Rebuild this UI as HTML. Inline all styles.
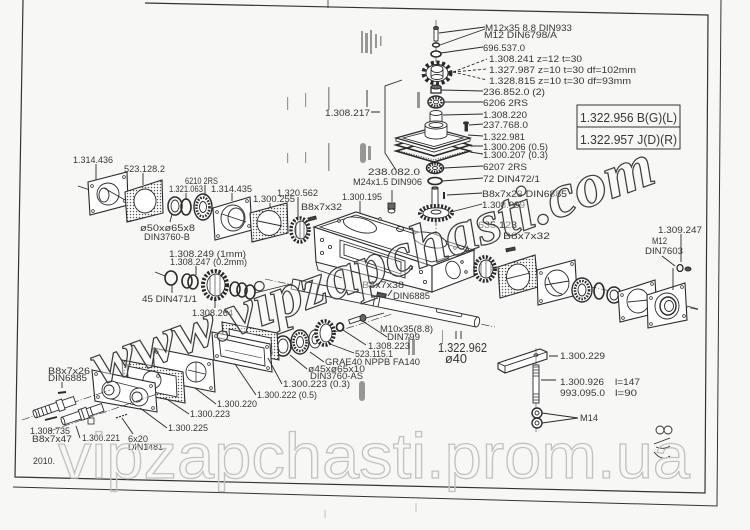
<!DOCTYPE html>
<html><head><meta charset="utf-8">
<style>
html,body{margin:0;padding:0;background:#f7f7f6;}
svg{display:block;}
text{font-family:"Liberation Sans",sans-serif;fill:#363636;font-size:9.5px;}
</style></head><body>
<svg width="750" height="530" viewBox="0 0 750 530" xmlns="http://www.w3.org/2000/svg">
<defs>
<pattern id="dots" width="3" height="3" patternUnits="userSpaceOnUse"><rect width="3" height="3" fill="#fff"/><circle cx="1.5" cy="1.5" r="0.75" fill="#555"/></pattern>
</defs>
<rect width="750" height="530" fill="#f7f7f6"/>

<!-- scan smudges -->
<g fill="#777" opacity="0.75">
<rect x="361" y="31" width="2" height="22"/><rect x="365" y="33" width="3" height="20"/><rect x="370" y="30" width="2" height="24"/><rect x="375" y="34" width="2" height="14"/><rect x="380" y="36" width="1.5" height="10"/>
<rect x="287" y="97" width="1.2" height="13"/><rect x="305" y="93" width="1.2" height="14"/><rect x="328" y="87" width="1.5" height="23"/><rect x="366" y="90" width="2" height="17"/><rect x="417" y="92" width="3" height="16"/>
<rect x="287" y="153" width="1.2" height="10"/><rect x="305" y="152" width="1.2" height="11"/><rect x="328" y="143" width="1.5" height="28"/><rect x="360" y="143" width="6" height="20" rx="3"/><rect x="368" y="146" width="3" height="14"/>
<rect x="359" y="381" width="6" height="20" rx="3"/><rect x="408" y="337" width="2" height="18"/><rect x="412" y="339" width="3" height="16"/><rect x="455" y="331" width="2" height="8"/><rect x="460" y="331" width="2" height="8"/><rect x="442" y="330" width="1" height="14"/>
</g>

<!-- frames -->
<g fill="none" stroke="#333" stroke-width="1.2">
<polyline points="145,3 708,15 705,493 15,477 23,0"/>
<polyline points="13,487 717,506 721,0" stroke-width="1"/>
<line x1="328" y1="0" x2="328" y2="8" stroke-width="0.8"/>
<line x1="325" y1="510" x2="325" y2="518" stroke-width="0.6" stroke="#999"/>
<line x1="416" y1="503" x2="416" y2="512" stroke-width="0.6" stroke="#999"/>
</g>

<g fill="none" stroke="#2a2a2a" stroke-width="0.9">

<!-- ===== TOP VERTICAL STACK ===== -->
<line x1="436" y1="20" x2="436" y2="62" stroke-width="0.6"/>
<rect x="434" y="28" width="4" height="13" fill="#fff"/>
<ellipse cx="436" cy="28" rx="2.5" ry="1.5" fill="#555"/>
<ellipse cx="436" cy="45" rx="3.5" ry="2" fill="#fff" stroke-width="1.4"/>
<ellipse cx="436" cy="54" rx="5" ry="3" fill="#fff" stroke-width="1.6"/>
<ellipse cx="437" cy="73" rx="13.5" ry="10.5" fill="#fff" stroke-width="4" stroke-dasharray="3 2.6"/>
<ellipse cx="437" cy="73" rx="11" ry="8.5" fill="#fff"/>
<ellipse cx="437" cy="69" rx="6" ry="3.5"/>
<path d="M431 69 v8 M443 69 v8"/>
<ellipse cx="437" cy="77" rx="6" ry="2.5"/>
<rect x="431" y="87" width="10" height="6" fill="#fff" stroke-width="1.3"/>
<ellipse cx="436" cy="87" rx="5" ry="2" fill="#666"/>
<ellipse cx="436" cy="102" rx="8" ry="6" fill="#fff" stroke-width="1.5"/>
<ellipse cx="436" cy="102" rx="5.5" ry="4" stroke-width="2.5" stroke-dasharray="1.5 1.2"/>
<ellipse cx="436" cy="102" rx="2.5" ry="1.8" fill="#fff"/>
<path d="M430 113 v8 a6 2.5 0 0 0 12 0 v-8" fill="#fff"/>
<ellipse cx="436" cy="113" rx="6" ry="2.5" fill="#fff"/>
<polygon points="396,145 432,135 470,145 434,156" stroke-width="1.6"/>
<polygon points="396,151 432,141 470,151 434,162" stroke-width="1.6"/>
<polyline points="399,151 434,160 467,151" stroke-dasharray="1 1.5"/>
<polygon points="396,138 396,141 434,152 470,141 470,138 434,149" fill="#fff"/>
<polygon points="396,138 432,128 470,138 434,149" fill="#fff" stroke-width="1.2"/>
<polygon points="403,138 432,130.5 463,138 434,146.5"/>
<path d="M425 125 v10 a11 4 0 0 0 22 0 v-10" fill="#fff"/>
<ellipse cx="436" cy="125" rx="11" ry="4" fill="#fff"/>
<ellipse cx="436" cy="125" rx="7" ry="2.5"/>
<rect x="465" y="123" width="2.5" height="8" fill="#333"/>
<ellipse cx="466" cy="123" rx="2.5" ry="1.2" fill="#333"/>
<ellipse cx="435" cy="168" rx="8.5" ry="5.5" fill="#fff" stroke-width="1.5"/>
<ellipse cx="435" cy="168" rx="6" ry="3.8" stroke-width="2.6" stroke-dasharray="1.4 1.1"/>
<ellipse cx="435" cy="168" rx="2.5" ry="1.5" fill="#fff"/>
<ellipse cx="435" cy="181" rx="7" ry="3.5" stroke-width="1.6"/>
<rect x="432" y="188" width="6" height="19" fill="#fff"/>
<ellipse cx="435" cy="188" rx="3" ry="1.2"/>
<line x1="444" y1="192" x2="444" y2="199" stroke-width="2"/>
<ellipse cx="436" cy="213" rx="16" ry="7" fill="#fff" stroke-width="4" stroke-dasharray="2 1.6"/>
<ellipse cx="436" cy="213" rx="13" ry="5.2" fill="#fff"/>
<ellipse cx="436" cy="212" rx="5" ry="2"/>
<line x1="436" y1="221" x2="436" y2="236" stroke-dasharray="5 2 1 2" stroke-width="0.7"/>

<path d="M439 33 L485 27 M440 45 L485 29 M441 53 L483 47"/>
<path d="M453 72 L487 59 M453 72 L487 69 M453 72 L487 80" stroke-dasharray="3 2"/>
<path d="M441 90 L483 91 M444 102 L483 102 M443 115 L483 114 M469 125 L483 124 M468 135 L483 136 M470 146 L483 146 M470 152 L483 154 M444 168 L483 166 M442 181 L483 178 M447 195 L482 193 M451 212 L482 204"/>

<path d="M371 112 L380 112 M402 80 L385 86 L385 153 L396 170"/>

<!-- ===== HOUSING ===== -->
<polygon points="314,227 432,266 432,292 316,262" fill="#fff" stroke-width="1.1"/>
<polygon points="432,266 474,250 474,276 432,292" fill="#fff" stroke-width="1.1"/>
<polygon points="314,227 356,212 474,250 432,266" fill="#fff" stroke-width="1.1"/>
<polygon points="320,227 356,215 468,251 432,262"/>
<ellipse cx="360" cy="225" rx="17" ry="7" transform="rotate(15 360 225)" fill="#fff"/>
<ellipse cx="430" cy="240" rx="17" ry="7" transform="rotate(15 430 240)" fill="#fff"/>
<ellipse cx="400" cy="229" rx="3.5" ry="2.5"/>
<polygon points="340,240 405,261 405,278 340,257" fill="#fff"/>
<polygon points="344,244 401,262 401,274 344,255"/>
<path d="M316 262 L318 270 L342 278 M420 289 L432 292"/>
<ellipse cx="453" cy="270" rx="7" ry="9" transform="rotate(-20 453 270)"/>
<g fill="#fff" stroke-width="0.8">
<circle cx="322" cy="240" r="1.6"/><circle cx="330" cy="247" r="1.6"/><circle cx="322" cy="253" r="1.6"/><circle cx="411" cy="268" r="1.6"/><circle cx="421" cy="272" r="1.6"/><circle cx="425" cy="282" r="1.6"/><circle cx="339" cy="221" r="1.3"/><circle cx="380" cy="219" r="1.3"/><circle cx="414" cy="233" r="1.3"/><circle cx="455" cy="248" r="1.3"/><circle cx="462" cy="262" r="1.3"/><circle cx="466" cy="272" r="1.3"/>
</g>
<rect x="388" y="203" width="7" height="6" fill="#666"/>
<ellipse cx="391.5" cy="211" rx="3.5" ry="2" fill="#fff"/>
<path d="M392 190 v12 M360 201 v12"/>

<line x1="265" y1="279" x2="495" y2="327" stroke-dasharray="8 2 1 2" stroke-width="0.6"/>
<path d="M293 279 L478 317 L476 327 L291 289 Z" fill="#fff"/>
<ellipse cx="477" cy="322" rx="2.5" ry="5" transform="rotate(12 477 322)" fill="#fff"/>
<path d="M300 281 l-2 10 M306 282 l-2 10 M312 283 l-2 10 M318 285 l-2 10 M375 296 l-2 10 M380 297 l-2 10"/>
<rect x="436" y="311" width="26" height="3.5" rx="1.7" transform="rotate(11.6 449 313)" fill="#fff"/>
<rect x="377" y="293" width="9" height="4" transform="rotate(12 381 295)" fill="#555"/>
<path d="M392 290 L388 296"/>

<!-- ===== TOP LEFT CHAIN ===== -->
<line x1="78" y1="186" x2="90" y2="190"/>
<polygon points="88,182 127,172 128,205 90,215" fill="#fff" stroke-width="1.1"/>
<circle cx="108" cy="194" r="11"/>
<ellipse cx="104" cy="195" rx="5" ry="7"/>
<path d="M104 188 L125 200"/>
<g fill="#fff" stroke-width="0.7"><circle cx="92" cy="186" r="1.4"/><circle cx="124" cy="177" r="1.4"/><circle cx="125" cy="201" r="1.4"/><circle cx="93" cy="211" r="1.4"/></g>
<polygon points="125,192 162,180 163,213 127,222" fill="url(#dots)" stroke-width="1.1"/>
<ellipse cx="145" cy="201" rx="11" ry="12" fill="#fff"/>
<ellipse cx="175" cy="206" rx="7" ry="9" fill="#fff" stroke-width="1.5"/>
<ellipse cx="175" cy="206" rx="4" ry="6"/>
<ellipse cx="186" cy="207" rx="5" ry="8" stroke-width="1.6"/>
<ellipse cx="203" cy="207" rx="9" ry="13" fill="#fff" stroke-width="1.4"/>
<ellipse cx="203" cy="207" rx="6.5" ry="9.5" stroke-width="2.6" stroke-dasharray="1.6 1.3"/>
<ellipse cx="203" cy="207" rx="3.5" ry="5.5" fill="#fff"/>
<polygon points="213,208 250,197 252,230 215,240" fill="#fff" stroke-width="1.1"/>
<ellipse cx="233" cy="218" rx="12" ry="13" fill="#fff"/>
<ellipse cx="236" cy="218" rx="8" ry="10"/>
<path d="M222 214 L246 222"/>
<g fill="#fff" stroke-width="0.7"><circle cx="217" cy="212" r="1.4"/><circle cx="247" cy="201" r="1.4"/><circle cx="249" cy="226" r="1.4"/><circle cx="218" cy="236" r="1.4"/></g>
<polygon points="250,213 287,203 288,233 252,242" fill="url(#dots)" stroke-width="1.1"/>
<ellipse cx="269" cy="223" rx="12" ry="12.5" fill="#fff"/>
<path d="M258 221 L282 226"/>
<ellipse cx="300" cy="230" rx="9" ry="12" fill="#fff" stroke-width="3.5" stroke-dasharray="2 1.5"/>
<ellipse cx="301" cy="230" rx="6" ry="9" fill="#fff"/>
<path d="M296 222 v16 M300 221 v18 M304 222 v16" stroke-width="0.6"/>
<rect x="308" y="217" width="8" height="3" transform="rotate(-15 312 218)" fill="#444"/>
<path d="M96 164 v16 M143 173 v12 M205 185 v11 M186 193 v7 M232 193 v8 M270 203 v5 M298 197 v22 M170 222 l2 -8"/>

<!-- ===== 2nd LEFT CHAIN ===== -->
<line x1="155" y1="272" x2="165" y2="276"/>
<ellipse cx="171" cy="278" rx="6" ry="7" stroke-width="1.6"/>
<ellipse cx="187" cy="281" rx="5" ry="7" stroke-width="1.6"/>
<ellipse cx="193" cy="282" rx="5" ry="7" stroke-width="1.6"/>
<ellipse cx="215" cy="285" rx="12" ry="14" fill="#fff" stroke-width="4" stroke-dasharray="2.2 1.6"/>
<ellipse cx="216" cy="285" rx="9" ry="11" fill="#fff"/>
<path d="M210 276 v18 M215 275 v20 M220 276 v18" stroke-width="0.6"/>
<ellipse cx="235" cy="289" rx="5" ry="7" stroke-width="1.6"/>
<ellipse cx="242" cy="290" rx="5" ry="7" stroke-width="1.6"/>
<ellipse cx="250" cy="292" rx="5" ry="7" stroke-width="1.6"/>
<line x1="255" y1="293" x2="291" y2="284"/>
<path d="M172 293 v-8 M196 266 v9 M215 299 v9"/>

<!-- ===== BOTTOM MID BEARINGS ===== -->
<line x1="272" y1="352" x2="392" y2="314" stroke-dasharray="8 2 1 2" stroke-width="0.6"/>
<ellipse cx="283" cy="346" rx="8" ry="10" fill="#fff" stroke-width="1.6"/>
<ellipse cx="283" cy="346" rx="5" ry="7"/>
<ellipse cx="300" cy="342" rx="9" ry="12" fill="#fff" stroke-width="1.4"/>
<ellipse cx="300" cy="342" rx="6.5" ry="9" stroke-width="2.6" stroke-dasharray="1.6 1.3"/>
<ellipse cx="300" cy="342" rx="3.5" ry="5.5" fill="#fff"/>
<ellipse cx="315" cy="339" rx="6" ry="9" fill="#fff"/>
<ellipse cx="315" cy="339" rx="3" ry="5"/>
<ellipse cx="325" cy="333" rx="9" ry="12" fill="#fff" stroke-width="3.8" stroke-dasharray="2 1.5"/>
<ellipse cx="326" cy="333" rx="6" ry="9" fill="#fff"/>
<ellipse cx="340" cy="327" rx="3.5" ry="4" fill="#fff" stroke-width="1.8"/>
<rect x="349" y="318" width="12" height="4" transform="rotate(-18 355 320)" fill="#fff"/>
<ellipse cx="363" cy="318" rx="3" ry="3.5" fill="#666"/>
<path d="M366 318 L384 313 M364 322 L387 337 M343 330 L366 345 M330 344 L354 353 M310 352 L324 362 M290 355 L307 369"/>

<!-- ===== BOTTOM LEFT PLATES ===== -->
<polygon points="222,322 277,333 279,360 224,349" fill="url(#dots)" stroke-width="1.1"/>
<polygon points="229,329 271,338 272,354 230,344" fill="#fff"/>
<polygon points="212,332 270,344 272,372 214,360" fill="#fff" stroke-width="1.1"/>
<polygon points="219,338 264,348 265,366 221,356"/>
<path d="M225 350 L262 358" stroke-width="0.6"/>
<polygon points="153,348 213,360 215,392 155,380" fill="#fff" stroke-width="1.1"/>
<circle cx="196" cy="372" r="10"/>
<path d="M188 370 L205 374 M196 362 v20" stroke-width="0.7"/>
<polygon points="122,360 183,372 185,403 124,391" fill="url(#dots)" stroke-width="1.1"/>
<polygon points="127,366 176,376 177,397 129,387" fill="#fff"/>
<circle cx="152" cy="380" r="9"/>
<polygon points="92,370 155,383 157,412 95,401" fill="#fff" stroke-width="1.1"/>
<path d="M111 381 L139 388 M111 399 L139 406" stroke-width="0.8"/>
<circle cx="111" cy="390" r="9" fill="#fff"/>
<circle cx="139" cy="397" r="9" fill="#fff"/>
<circle cx="109" cy="390" r="5"/>
<circle cx="137" cy="397" r="5"/>
<g fill="#fff" stroke-width="0.7">
<circle cx="96" cy="374" r="1.4"/><circle cx="151" cy="386" r="1.4"/><circle cx="153" cy="408" r="1.4"/><circle cx="98" cy="397" r="1.4"/>
<circle cx="157" cy="352" r="1.4"/><circle cx="209" cy="364" r="1.4"/><circle cx="211" cy="388" r="1.4"/><circle cx="158" cy="376" r="1.4"/>
<circle cx="216" cy="336" r="1.4"/><circle cx="267" cy="347" r="1.4"/><circle cx="268" cy="368" r="1.4"/><circle cx="217" cy="356" r="1.4"/>
</g>
<path d="M268 358 L282 384 M235 364 L256 395 M195 388 L216 404 M165 398 L189 414 M140 408 L167 428"/>

<line x1="22" y1="420" x2="110" y2="390" stroke-dasharray="8 2 1 2" stroke-width="0.6"/>
<line x1="50" y1="431" x2="160" y2="393" stroke-dasharray="8 2 1 2" stroke-width="0.6"/>
<g transform="translate(35,414) rotate(-19)">
<rect x="0" y="-4" width="42" height="8" fill="#fff"/>
<path d="M4 -4 v8 M8 -4 v8 M12 -4 v8 M16 -4 v8"/>
<rect x="24" y="-5.5" width="6" height="11" fill="#fff"/>
<ellipse cx="0" cy="0" rx="1.5" ry="4" fill="#fff"/>
</g>
<g transform="translate(63,421) rotate(-19)">
<rect x="0" y="-4" width="42" height="8" fill="#fff"/>
<rect x="18" y="-5.5" width="8" height="11" fill="#fff"/>
<path d="M21 -5.5 v11 M30 -4 v8"/>
<ellipse cx="0" cy="0" rx="1.5" ry="4" fill="#fff"/>
</g>
<line x1="58" y1="393" x2="66" y2="392" stroke-width="2"/>
<line x1="45" y1="420" x2="57" y2="417" stroke-width="1.8"/>
<rect x="88" y="418" width="6" height="6" stroke-width="0.8"/>
<line x1="116" y1="418" x2="128" y2="414" stroke-dasharray="2 1.2" stroke-width="1.2"/>
<path d="M62 388 v-6 M133 434 L122 418 M80 438 L76 426"/>

<!-- ===== RIGHT CHAIN ===== -->
<line x1="474" y1="262" x2="700" y2="310" stroke-dasharray="8 2 1 2" stroke-width="0.6"/>
<ellipse cx="485" cy="269" rx="10" ry="12" fill="#fff" stroke-width="3.8" stroke-dasharray="2 1.5"/>
<ellipse cx="486" cy="269" rx="7" ry="9" fill="#fff"/>
<path d="M481 261 v16 M486 260 v18 M491 261 v16" stroke-width="0.6"/>
<rect x="506" y="248" width="9" height="3" transform="rotate(-12 510 249)" fill="#444"/>
<polygon points="498,267 535,255 538,287 500,298" fill="url(#dots)" stroke-width="1.1"/>
<ellipse cx="518" cy="277" rx="11.5" ry="13" fill="#fff"/>
<path d="M506 279 L530 273"/>
<polygon points="537,270 575,260 577,295 538,305" fill="#fff" stroke-width="1.1"/>
<ellipse cx="557" cy="283" rx="12" ry="13" fill="#fff"/>
<path d="M548 277 Q552 292 562 294 M545 285 L569 281"/>
<g fill="#fff" stroke-width="0.7"><circle cx="541" cy="273" r="1.4"/><circle cx="572" cy="264" r="1.4"/><circle cx="574" cy="291" r="1.4"/><circle cx="541" cy="301" r="1.4"/></g>
<ellipse cx="582" cy="290" rx="10" ry="12" fill="#fff" stroke-width="1.4"/>
<ellipse cx="582" cy="290" rx="7" ry="9" stroke-width="2.6" stroke-dasharray="1.6 1.3"/>
<ellipse cx="582" cy="290" rx="4" ry="6" fill="#fff"/>
<ellipse cx="599" cy="291" rx="5" ry="8" stroke-width="1.6"/>
<ellipse cx="614" cy="295" rx="7" ry="8" fill="#fff" stroke-width="1.5"/>
<ellipse cx="614" cy="295" rx="4" ry="5"/>
<polygon points="618,292 655,280 657,313 620,322" fill="#fff" stroke-width="1.1"/>
<ellipse cx="638" cy="301" rx="11" ry="12"/>
<path d="M628 302 L648 300"/>
<g fill="#fff" stroke-width="0.7"><circle cx="622" cy="295" r="1.4"/><circle cx="652" cy="284" r="1.4"/><circle cx="654" cy="309" r="1.4"/><circle cx="623" cy="318" r="1.4"/></g>
<polygon points="647,295 685,283 687,320 648,328" fill="#fff" stroke-width="1.1"/>
<ellipse cx="667" cy="306" rx="12" ry="13"/>
<ellipse cx="668" cy="306" rx="8" ry="9" stroke-width="1.4"/>
<ellipse cx="669" cy="306" rx="4.5" ry="5.5"/>
<g fill="#fff" stroke-width="0.7"><circle cx="651" cy="298" r="1.4"/><circle cx="682" cy="287" r="1.4"/><circle cx="684" cy="316" r="1.4"/><circle cx="651" cy="324" r="1.4"/></g>
<line x1="687" y1="306" x2="698" y2="309"/>
<ellipse cx="680" cy="268" rx="3" ry="3.5" stroke-width="1.3"/>
<ellipse cx="688" cy="269" rx="3" ry="2" fill="#555"/>
<path d="M681 234 v28 M662 256 L675 266 M673 268 v22"/>

<!-- ===== LOWER RIGHT ===== -->
<polygon points="498,363 540,349 547,352 547,359 505,373 498,369" fill="#fff" stroke-width="1.1"/>
<path d="M498 363 L505 366 L547 352 M505 366 v7"/>
<ellipse cx="536" cy="355" rx="2" ry="1.2"/>
<line x1="536" y1="348" x2="536" y2="432" stroke-width="0.5"/>
<rect x="533" y="365" width="6" height="38" fill="#fff"/>
<path d="M533 367 h6 M533 370 h6 M533 373 h6 M533 376 h6 M533 394 h6 M533 397 h6 M533 400 h6" stroke-width="0.7"/>
<circle cx="537" cy="413" r="5" fill="#fff" stroke-width="1.4"/>
<circle cx="537" cy="413" r="2"/>
<circle cx="537" cy="423" r="5" fill="#fff" stroke-width="1.4"/>
<circle cx="537" cy="423" r="2"/>
<path d="M542 413 L578 418 M542 423 L578 418 M549 356 L558 356 M541 380 L556 380"/>

<circle cx="660" cy="430" r="4"/>
<circle cx="668" cy="430" r="4"/>
<path d="M654 444 L670 438 M656 447 Q664 450 670 446 M654 452 Q662 462 670 456"/>
</g>

<!-- ===== LABELS ===== -->
<g>
<text x="485" y="31" textLength="87" lengthAdjust="spacingAndGlyphs">M12x35 8.8 DIN933</text>
<text x="484" y="38" textLength="73" lengthAdjust="spacingAndGlyphs">M12 DIN6798/A</text>
<text x="483" y="51" textLength="42" lengthAdjust="spacingAndGlyphs">696.537.0</text>
<text x="489" y="62" textLength="93" lengthAdjust="spacingAndGlyphs">1.308.241 z=12 t=30</text>
<text x="489" y="73" textLength="147" lengthAdjust="spacingAndGlyphs">1.327.987 z=10 t=30 df=102mm</text>
<text x="489" y="84" textLength="142" lengthAdjust="spacingAndGlyphs">1.328.815 z=10 t=30 df=93mm</text>
<text x="483" y="95" textLength="62" lengthAdjust="spacingAndGlyphs">236.852.0 (2)</text>
<text x="483" y="106" textLength="45" lengthAdjust="spacingAndGlyphs">6206 2RS</text>
<text x="483" y="118" textLength="44" lengthAdjust="spacingAndGlyphs">1.308.220</text>
<text x="483" y="128" textLength="45" lengthAdjust="spacingAndGlyphs">237.768.0</text>
<text x="483" y="140" textLength="42" lengthAdjust="spacingAndGlyphs">1.322.981</text>
<text x="483" y="150" textLength="65" lengthAdjust="spacingAndGlyphs">1.300.206 (0.5)</text>
<text x="483" y="158" textLength="65" lengthAdjust="spacingAndGlyphs">1.300.207 (0.3)</text>
<text x="483" y="170" textLength="44" lengthAdjust="spacingAndGlyphs">6207 2RS</text>
<text x="483" y="182" textLength="57" lengthAdjust="spacingAndGlyphs">72 DIN472/1</text>
<text x="482" y="197" textLength="85" lengthAdjust="spacingAndGlyphs">B8x7x23 DIN6885</text>
<text x="482" y="208" textLength="43" lengthAdjust="spacingAndGlyphs">1.308.999</text>

<rect x="577" y="105" width="103" height="44" fill="none" stroke="#333" stroke-width="1"/>
<line x1="577" y1="127" x2="680" y2="127" stroke="#333" stroke-width="1"/>
<text x="580" y="122" style="font-size:13px" textLength="97" lengthAdjust="spacingAndGlyphs">1.322.956 B(G)(L)</text>
<text x="580" y="144" style="font-size:13px" textLength="97" lengthAdjust="spacingAndGlyphs">1.322.957 J(D)(R)</text>

<text x="325" y="116" textLength="45" lengthAdjust="spacingAndGlyphs">1.308.217</text>
<text x="368" y="175" textLength="52" lengthAdjust="spacingAndGlyphs">238.082.0</text>
<text x="353" y="185" textLength="69" lengthAdjust="spacingAndGlyphs">M24x1.5 DIN906</text>
<text x="342" y="200" textLength="40" lengthAdjust="spacingAndGlyphs">1.300.195</text>
<text x="73" y="163" textLength="40" lengthAdjust="spacingAndGlyphs">1.314.436</text>
<text x="124" y="172" textLength="41" lengthAdjust="spacingAndGlyphs">523.128.2</text>
<text x="185" y="184" textLength="33" lengthAdjust="spacingAndGlyphs">6210 2RS</text>
<text x="169" y="192" textLength="34" lengthAdjust="spacingAndGlyphs">1.321.063</text>
<text x="211" y="192" textLength="41" lengthAdjust="spacingAndGlyphs">1.314.435</text>
<text x="277" y="196" textLength="41" lengthAdjust="spacingAndGlyphs">1.320.562</text>
<text x="253" y="202" textLength="42" lengthAdjust="spacingAndGlyphs">1.300.255</text>
<text x="301" y="210" textLength="41" lengthAdjust="spacingAndGlyphs">B8x7x32</text>
<text x="140" y="231" textLength="55" lengthAdjust="spacingAndGlyphs">ø50xø65x8</text>
<text x="144" y="240" textLength="46" lengthAdjust="spacingAndGlyphs">DIN3760-B</text>
<text x="169" y="257" textLength="77" lengthAdjust="spacingAndGlyphs">1.308.249 (1mm)</text>
<text x="170" y="265" textLength="77" lengthAdjust="spacingAndGlyphs">1.308.247 (0.2mm)</text>
<text x="142" y="302" textLength="55" lengthAdjust="spacingAndGlyphs">45 DIN471/1</text>
<text x="192" y="316" textLength="41" lengthAdjust="spacingAndGlyphs">1.308.264</text>
<text x="478" y="228" textLength="39" lengthAdjust="spacingAndGlyphs">635.123</text>
<text x="503" y="239" textLength="47" lengthAdjust="spacingAndGlyphs">B8x7x32</text>
<text x="658" y="233" textLength="44" lengthAdjust="spacingAndGlyphs">1.309.247</text>
<text x="652" y="244" textLength="15" lengthAdjust="spacingAndGlyphs">M12</text>
<text x="645" y="254" textLength="38" lengthAdjust="spacingAndGlyphs">DIN7603</text>
<text x="362" y="288" textLength="42" lengthAdjust="spacingAndGlyphs">B8x7x38</text>
<text x="393" y="299" textLength="37" lengthAdjust="spacingAndGlyphs">DIN6885</text>
<text x="380" y="332" textLength="53" lengthAdjust="spacingAndGlyphs">M10x35(8.8)</text>
<text x="387" y="340" textLength="33" lengthAdjust="spacingAndGlyphs">DIN799</text>
<text x="368" y="349" textLength="42" lengthAdjust="spacingAndGlyphs">1.308.223</text>
<text x="355" y="357" textLength="38" lengthAdjust="spacingAndGlyphs">523.115.1</text>
<text x="325" y="365" textLength="95" lengthAdjust="spacingAndGlyphs">GRAE40 NPPB FA140</text>
<text x="308" y="372" textLength="57" lengthAdjust="spacingAndGlyphs">ø45xø65x10</text>
<text x="310" y="379" textLength="53" lengthAdjust="spacingAndGlyphs">DIN3760-AS</text>
<text x="283" y="387" textLength="67" lengthAdjust="spacingAndGlyphs">1.300.223 (0.3)</text>
<text x="257" y="398" textLength="60" lengthAdjust="spacingAndGlyphs">1.300.222 (0.5)</text>
<text x="217" y="407" textLength="40" lengthAdjust="spacingAndGlyphs">1.300.220</text>
<text x="190" y="417" textLength="40" lengthAdjust="spacingAndGlyphs">1.300.223</text>
<text x="168" y="431" textLength="40" lengthAdjust="spacingAndGlyphs">1.300.225</text>
<text x="48" y="374" textLength="42" lengthAdjust="spacingAndGlyphs">B8x7x26</text>
<text x="48" y="381" textLength="39" lengthAdjust="spacingAndGlyphs">DIN6885</text>
<text x="30" y="434" textLength="40" lengthAdjust="spacingAndGlyphs">1.308.735</text>
<text x="32" y="442" textLength="40" lengthAdjust="spacingAndGlyphs">B8x7x47</text>
<text x="82" y="441" textLength="38" lengthAdjust="spacingAndGlyphs">1.300.221</text>
<text x="128" y="442" textLength="20" lengthAdjust="spacingAndGlyphs">6x20</text>
<text x="128" y="450" textLength="35" lengthAdjust="spacingAndGlyphs">DIN1481</text>
<text x="33" y="464" textLength="22" lengthAdjust="spacingAndGlyphs">2010.</text>
<text x="438" y="352" style="font-size:12.5px" textLength="49" lengthAdjust="spacingAndGlyphs">1.322.962</text>
<text x="445" y="363" style="font-size:12.5px" textLength="22" lengthAdjust="spacingAndGlyphs">ø40</text>
<text x="560" y="359" textLength="45" lengthAdjust="spacingAndGlyphs">1.300.229</text>
<text x="560" y="385" textLength="44" lengthAdjust="spacingAndGlyphs">1.300.926</text>
<text x="615" y="385" textLength="25" lengthAdjust="spacingAndGlyphs">l=147</text>
<text x="560" y="396" textLength="45" lengthAdjust="spacingAndGlyphs">993.095.0</text>
<text x="615" y="396" textLength="22" lengthAdjust="spacingAndGlyphs">l=90</text>
<text x="580" y="421" textLength="18" lengthAdjust="spacingAndGlyphs">M14</text>
</g>

<!-- ===== WATERMARKS ===== -->
<text x="58" y="478" textLength="632" lengthAdjust="spacingAndGlyphs" style="font-family:'Liberation Sans',sans-serif;font-size:64px;fill:none;stroke:#c2c2c2;stroke-width:1.3">vipzapchasti.prom.ua</text>
<text x="100" y="385" transform="rotate(-20 100 385)" textLength="594" lengthAdjust="spacingAndGlyphs" style="font-family:'Liberation Serif',serif;font-style:italic;font-weight:bold;font-size:62px;fill:#ffffff;fill-opacity:0.4;stroke:#3c3c3c;stroke-width:1.2">www.vipzapchasti.com</text>
</svg>
</body></html>
